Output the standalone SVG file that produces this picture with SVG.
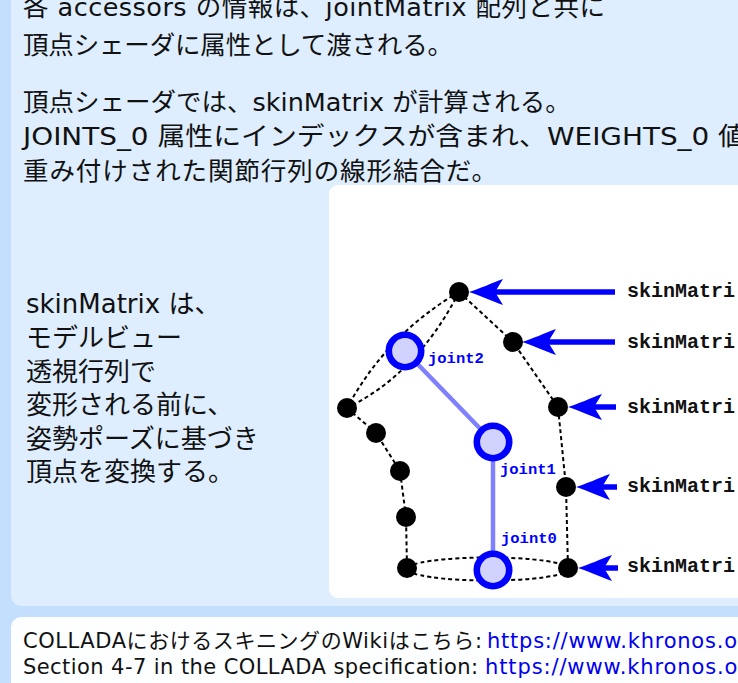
<svg xmlns="http://www.w3.org/2000/svg" xmlns:xlink="http://www.w3.org/1999/xlink" width="738" height="683" viewBox="0 0 738 683">
  <style>
    .body { font-family: "DejaVu Sans", "Noto Sans CJK JP", sans-serif; fill: #111; }
    .top { font-size: 25.5px; }
    .side { font-size: 26px; }
    .foot { font-size: 21px; }
    .link { fill: #0000ee; }
    .edge { fill: none; stroke: #000; stroke-width: 2; stroke-dasharray: 4 3; }
    .bone { stroke: #8080ff; stroke-width: 4.5; stroke-linecap: round; }
    .vertex { fill: #000; }
    .joint { fill: #d2d2ff; stroke: #0000ff; stroke-width: 6.6; }
    .jlabel { font-family: "Liberation Mono", "DejaVu Sans Mono", monospace; font-weight: bold; font-size: 15.5px; fill: #0000ff; }
    .mlabel { font-family: "Liberation Mono", "DejaVu Sans Mono", monospace; font-weight: bold; font-size: 20px; fill: #111; }
    .shaft { stroke: #0000ff; stroke-width: 5.5; }
    .head { fill: #0000ff; }
  </style>
  <defs>
    <!-- arrowhead pointing left, tip at the origin -->
    <path id="arrowhead" class="head" d="M0,0 C10,-3 23,-9 34,-13 L26,0 L34,13 C23,9 10,3 0,0 Z"/>
  </defs>

  <!-- panels -->
  <rect x="0" y="0" width="738" height="683" fill="#c3dffd"/>
  <rect x="11" y="-20" width="760" height="626" rx="10" fill="#deeeff"/>
  <rect x="11" y="617" width="760" height="90" rx="10" fill="#fdfeff"/>
  <rect x="329" y="185" width="430" height="413" rx="9" fill="#ffffff"/>

  <!-- description text -->
  <g id="description" class="body top">
    <text x="23" y="16" textLength="582" lengthAdjust="spacing">各 accessors の情報は、jointMatrix 配列と共に</text>
    <text x="23" y="54" textLength="430" lengthAdjust="spacing">頂点シェーダに属性として渡される。</text>
    <text x="23" y="111">頂点シェーダでは、skinMatrix が計算される。</text>
    <text x="23" y="145" textLength="723" lengthAdjust="spacingAndGlyphs">JOINTS_0 属性にインデックスが含まれ、WEIGHTS_0 値</text>
    <text x="23" y="180" textLength="474" lengthAdjust="spacing">重み付けされた関節行列の線形結合だ。</text>
  </g>

  <g id="side-note" class="body side">
    <text x="26" y="313">skinMatrix は、</text>
    <text x="26" y="347">モデルビュー</text>
    <text x="26" y="381">透視行列で</text>
    <text x="26" y="414">変形される前に、</text>
    <text x="26" y="448">姿勢ポーズに基づき</text>
    <text x="26" y="481">頂点を変換する。</text>
  </g>

  <!-- connectors: mesh outline, bones and skinMatrix arrows -->
  <g id="connectors">
    <path class="edge" d="M459,292 Q387,334 347,408"/>
    <path class="edge" d="M459,292 Q417,374 347,408"/>
    <path class="edge" d="M459,292 L513,342 L558,407 L566,487 L568,568"/>
    <path class="edge" d="M347,408 L376,433 L400,471 L406,517 L407,568"/>
    <ellipse class="edge" cx="488" cy="569" rx="81" ry="11.5"/>
    <line class="bone" x1="405" y1="351" x2="493" y2="442"/>
    <line class="bone" x1="493" y1="442" x2="493" y2="570"/>
    <line class="shaft" x1="615" y1="292" x2="495" y2="292"/>
    <line class="shaft" x1="615" y1="342" x2="548" y2="342"/>
    <line class="shaft" x1="616" y1="407" x2="594" y2="407"/>
    <line class="shaft" x1="617" y1="487" x2="602" y2="487"/>
    <line class="shaft" x1="618" y1="568" x2="604" y2="568"/>
    <use xlink:href="#arrowhead" x="469" y="292"/>
    <use xlink:href="#arrowhead" x="522" y="342"/>
    <use xlink:href="#arrowhead" x="568" y="407"/>
    <use xlink:href="#arrowhead" x="576" y="487"/>
    <use xlink:href="#arrowhead" x="578" y="568"/>
  </g>

  <!-- mesh vertices -->
  <g id="vertex-top"><circle class="vertex" cx="459" cy="292" r="10"/><text class="mlabel" x="627" y="297">skinMatri</text></g>
  <g id="vertex-right-1"><circle class="vertex" cx="513" cy="342" r="10"/><text class="mlabel" x="627" y="348">skinMatri</text></g>
  <g id="vertex-right-2"><circle class="vertex" cx="558" cy="407" r="10"/><text class="mlabel" x="627" y="413">skinMatri</text></g>
  <g id="vertex-right-3"><circle class="vertex" cx="566" cy="487" r="10"/><text class="mlabel" x="627" y="492">skinMatri</text></g>
  <g id="vertex-right-4"><circle class="vertex" cx="568" cy="568" r="10"/><text class="mlabel" x="627" y="572">skinMatri</text></g>
  <g id="vertex-left-1"><circle class="vertex" cx="347" cy="408" r="10"/></g>
  <g id="vertex-left-2"><circle class="vertex" cx="376" cy="433" r="10"/></g>
  <g id="vertex-left-3"><circle class="vertex" cx="400" cy="471" r="10"/></g>
  <g id="vertex-left-4"><circle class="vertex" cx="406" cy="517" r="10"/></g>
  <g id="vertex-left-5"><circle class="vertex" cx="407" cy="568" r="10"/></g>

  <!-- joints -->
  <g id="joint2"><circle class="joint" cx="405" cy="351" r="16.2"/><text class="jlabel" x="428" y="363">joint2</text></g>
  <g id="joint1"><circle class="joint" cx="493" cy="442" r="16.2"/><text class="jlabel" x="500" y="474">joint1</text></g>
  <g id="joint0"><circle class="joint" cx="493" cy="570" r="16.2"/><text class="jlabel" x="501" y="543">joint0</text></g>

  <!-- references -->
  <g id="references" class="body foot">
    <text x="23" y="648" textLength="459" lengthAdjust="spacing">COLLADAにおけるスキニングのWikiはこちら:</text>
    <text class="link" x="487" y="648" textLength="250" lengthAdjust="spacing">https://www.khronos.o</text>
    <text x="23" y="674" textLength="455" lengthAdjust="spacing">Section 4-7 in the COLLADA specification:</text>
    <text class="link" x="485" y="674" textLength="262" lengthAdjust="spacing">https://www.khronos.or</text>
  </g>
</svg>
